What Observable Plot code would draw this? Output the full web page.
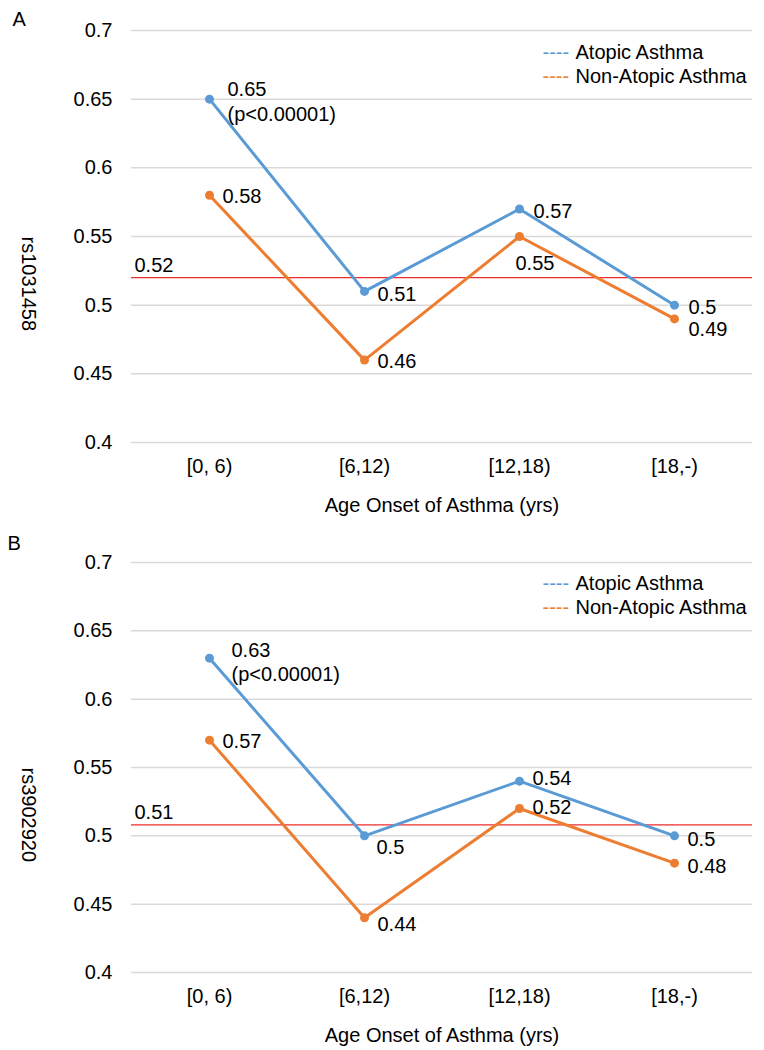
<!DOCTYPE html>
<html>
<head>
<meta charset="utf-8">
<script src="https://cdn.jsdelivr.net/npm/d3@7"></script>
<script src="https://cdn.jsdelivr.net/npm/@observablehq/plot@0.6"></script>
<style>
  html, body { margin: 0; padding: 0; background: white; }
  #chart { width: 764px; }
  #chart svg { display: block; }
</style>
</head>
<body>
<div id="chart"></div>
<script>
// ---- data ----
const categories = ["[0, 6)", "[6,12)", "[12,18)", "[18,-)"];
const seriesNames = ["Atopic Asthma", "Non-Atopic Asthma"];
const atopicA = [0.65, 0.51, 0.57, 0.50];
const nonAtopicA = [0.58, 0.46, 0.55, 0.49];
const atopicB = [0.63, 0.50, 0.54, 0.50];
const nonAtopicB = [0.57, 0.44, 0.52, 0.48];
const refValueA = 0.52;
const refLabelA = "0.52";
const refValueB = 0.508;
const refLabelB = "0.51";
const pNote = "(p<0.00001)";
const yTicks = [0.4, 0.45, 0.5, 0.55, 0.6, 0.65, 0.7];
const yLabelA = "rs1031458";
const yLabelB = "rs3902920";
const xTitle = "Age Onset of Asthma (yrs)";
const legendDash = "----";

// ---- styling / layout ----
const colors = ["#5b9bd5", "#ed7d31"];
const font = "'Liberation Sans', Arial, Helvetica, sans-serif";
// label placement per point: [dx, dy, textAnchor]
const placeA = {
  atopic: [[18, 1.5, "start"], [13, 2, "start"], [14, 1, "start"], [14, 1, "start"]],
  non: [[13, 0, "start"], [13, 0, "start"], [-4, 26, "start"], [14, 9, "start"]]
};
const placeB = {
  atopic: [[22, 3, "start"], [12, 10, "start"], [13, -4, "start"], [13, 2, "start"]],
  non: [[13, 0, "start"], [13, 5, "start"], [13, -2, "start"], [13, 2, "start"]]
};

function panel({letter, letterDx, letterDy, atopic, non, refValue, refLabel, yLabel, place, marginTop, marginBottom, legendDy}) {
  const rows = [];
  categories.forEach((c, i) => {
    rows.push({cat: c, series: seriesNames[0], value: atopic[i],
      label: i === 0 ? String(atopic[i]) + "\n" + pNote : String(atopic[i]), p: place.atopic[i]});
  });
  categories.forEach((c, i) => {
    rows.push({cat: c, series: seriesNames[1], value: non[i], label: String(non[i]), p: place.non[i]});
  });
  const labelMarks = rows.map(r => Plot.text([r], {
    x: "cat", y: "value", text: "label",
    dx: r.p[0], dy: r.p[1], textAnchor: r.p[2], lineAnchor: "middle", lineHeight: 1.22,
    fill: "black", fontSize: 20
  }));
  return Plot.plot({
    width: 764,
    height: 525,
    marginLeft: 131,
    marginRight: 12,
    marginTop,
    marginBottom,
    style: {fontFamily: font, fontSize: "20px", color: "black", background: "white", overflow: "visible"},
    x: {type: "point", domain: categories, padding: 0.5},
    y: {domain: [0.4, 0.7]},
    color: {domain: seriesNames, range: colors},
    marks: [
      Plot.gridY(yTicks, {stroke: "#d9d9d9", strokeOpacity: 1, strokeWidth: 1.5}),
      Plot.axisY({ticks: yTicks, tickSize: 0, tickPadding: 19, label: null, tickFormat: d => String(d), fontSize: 20, fill: "black"}),
      Plot.axisX({tickSize: 0, tickPadding: 16, label: null, fontSize: 20, fill: "black"}),
      Plot.ruleY([refValue], {stroke: "#f02b2b", strokeWidth: 1.3}),
      Plot.text([refLabel], {y: () => refValue, frameAnchor: "left", textAnchor: "start", dx: 3, dy: -12, fill: "black", fontSize: 20}),
      Plot.line(rows, {x: "cat", y: "value", z: "series", stroke: "series", strokeWidth: 3, curve: "linear"}),
      Plot.dot(rows, {x: "cat", y: "value", fill: "series", r: 4.5}),
      ...labelMarks,
      // legend
      Plot.text([legendDash], {frameAnchor: "top-left", textAnchor: "start", dx: 411, dy: legendDy[0], fill: colors[0], fontSize: 20, lineAnchor: "middle"}),
      Plot.text([legendDash], {frameAnchor: "top-left", textAnchor: "start", dx: 411, dy: legendDy[1], fill: colors[1], fontSize: 20, lineAnchor: "middle"}),
      Plot.text([seriesNames[0]], {frameAnchor: "top-left", textAnchor: "start", dx: 444, dy: legendDy[0], fill: "black", fontSize: 20, lineAnchor: "middle"}),
      Plot.text([seriesNames[1]], {frameAnchor: "top-left", textAnchor: "start", dx: 444, dy: legendDy[1], fill: "black", fontSize: 20, lineAnchor: "middle"}),
      // y label
      Plot.text([yLabel], {frameAnchor: "left", rotate: 90, dx: -103, fill: "black", fontSize: 20, lineAnchor: "middle"}),
      // x title
      Plot.text([xTitle], {frameAnchor: "bottom", dy: 63, fill: "black", fontSize: 20, lineAnchor: "middle"}),
      // panel letter
      Plot.text([letter], {frameAnchor: "top-left", textAnchor: "start", dx: letterDx, dy: letterDy, fill: "black", fontSize: 20, lineAnchor: "middle"})
    ]
  });
}

const chart = document.getElementById("chart");
chart.append(panel({letter: "A", letterDx: -119, letterDy: -11, atopic: atopicA, non: nonAtopicA,
  refValue: refValueA, refLabel: refLabelA, yLabel: yLabelA, place: placeA,
  marginTop: 30, marginBottom: 83, legendDy: [22, 46]}));
chart.append(panel({letter: "B", letterDx: -124, letterDy: -19, atopic: atopicB, non: nonAtopicB,
  refValue: refValueB, refLabel: refLabelB, yLabel: yLabelB, place: placeB,
  marginTop: 37, marginBottom: 78, legendDy: [21, 45]}));
</script>
</body>
</html>
